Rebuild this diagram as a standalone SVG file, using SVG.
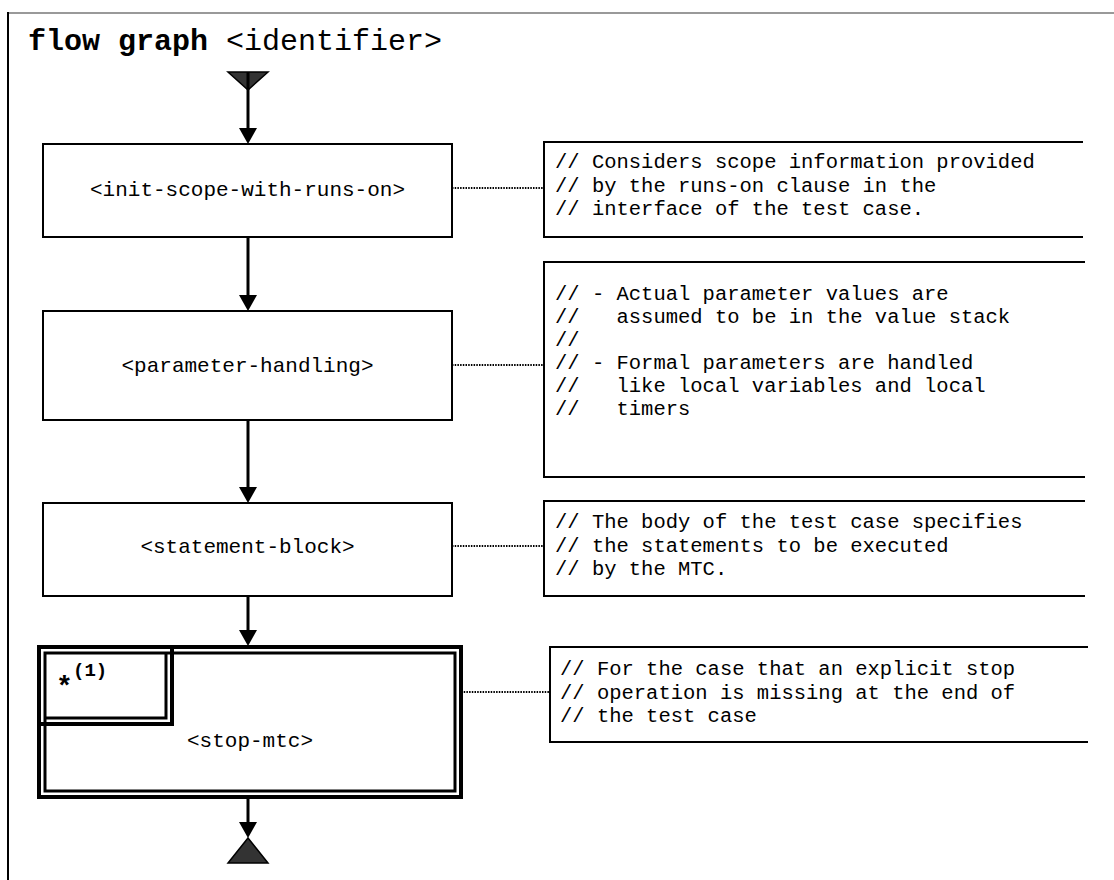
<svg xmlns="http://www.w3.org/2000/svg" width="1114" height="880" viewBox="0 0 1114 880">
<style>
.t{font-family:"Liberation Mono","Courier New",monospace;fill:#000}
.lbl{font-size:21px}
.cm{font-size:20.5px;white-space:pre}
.box{fill:#fff;stroke:#000;stroke-width:2}
.note{fill:none;stroke:#000;stroke-width:2}
.flow{fill:none;stroke:#000;stroke-width:3}
.dot{fill:none;stroke:#000;stroke-width:2;stroke-dasharray:1.5 1.2}
.term{fill:#333;stroke:#000;stroke-width:1.5}
</style>
<defs>
<marker id="ah" markerUnits="userSpaceOnUse" markerWidth="16" markerHeight="18" refX="8" refY="9" orient="auto">
<path d="M0,0 L16,9 L0,18 Z" fill="#000"/>
</marker>
</defs>
<rect width="1114" height="880" fill="#fff"/>
<g id="frame">
<line x1="7" y1="13" x2="1114" y2="13" stroke="#999" stroke-width="2"/>
<line x1="8" y1="12" x2="8" y2="880" stroke="#000" stroke-width="2"/>
<text class="t" x="28" y="50" font-size="30"><tspan font-weight="bold">flow graph</tspan> &lt;identifier&gt;</text>
</g>
<g id="start">
<polygon class="term" points="228,72 268,72 248,90"/>
</g>
<g id="n1">
<rect class="box" x="43" y="144" width="409" height="93"/>
<text class="t lbl" x="247.5" y="196" text-anchor="middle">&lt;init-scope-with-runs-on&gt;</text>
</g>
<g id="n2">
<rect class="box" x="43" y="311" width="409" height="109"/>
<text class="t lbl" x="247.5" y="372" text-anchor="middle">&lt;parameter-handling&gt;</text>
</g>
<g id="n3">
<rect class="box" x="43" y="503" width="409" height="93"/>
<text class="t lbl" x="247.5" y="553" text-anchor="middle">&lt;statement-block&gt;</text>
</g>
<g id="n4">
<rect x="39" y="647" width="422" height="150" fill="#fff" stroke="#000" stroke-width="4"/>
<rect x="45" y="653" width="410" height="138" fill="none" stroke="#000" stroke-width="3"/>
<polyline points="41,724 172,724 172,649" fill="none" stroke="#000" stroke-width="4"/>
<polyline points="46,718 166,718 166,654" fill="none" stroke="#000" stroke-width="3"/>
<text class="t" x="56" y="695" font-size="28" font-weight="bold">*</text>
<text class="t" x="73" y="676" font-size="19" font-weight="bold">(1)</text>
<text class="t lbl" x="250" y="747" text-anchor="middle">&lt;stop-mtc&gt;</text>
</g>
<g id="end">
<polygon class="term" points="248,838 268,863 228,863"/>
</g>
<g id="note1">
<polyline class="note" points="1083,142 544,142 544,237 1083,237"/>
<text class="t cm" x="555" y="168">// Considers scope information provided</text>
<text class="t cm" x="555" y="191.5">// by the runs-on clause in the</text>
<text class="t cm" x="555" y="215">// interface of the test case.</text>
</g>
<g id="note2">
<polyline class="note" points="1085,262 544,262 544,477 1085,477"/>
<text class="t cm" x="555" y="300">// - Actual parameter values are</text>
<text class="t cm" x="555" y="323">//   assumed to be in the value stack</text>
<text class="t cm" x="555" y="346">//</text>
<text class="t cm" x="555" y="369">// - Formal parameters are handled</text>
<text class="t cm" x="555" y="392">//   like local variables and local</text>
<text class="t cm" x="555" y="415">//   timers</text>
</g>
<g id="note3">
<polyline class="note" points="1085,501 544,501 544,596 1085,596"/>
<text class="t cm" x="555" y="528">// The body of the test case specifies</text>
<text class="t cm" x="555" y="551.5">// the statements to be executed</text>
<text class="t cm" x="555" y="575">// by the MTC.</text>
</g>
<g id="note4">
<polyline class="note" points="1088,647 550,647 550,742 1088,742"/>
<text class="t cm" x="560" y="675">// For the case that an explicit stop</text>
<text class="t cm" x="560" y="698.5">// operation is missing at the end of</text>
<text class="t cm" x="560" y="722">// the test case</text>
</g>
<g id="connectors">
<path class="flow" d="M248,72 V136" marker-end="url(#ah)"/>
<path class="flow" d="M248,237 V303" marker-end="url(#ah)"/>
<path class="flow" d="M248,420 V495" marker-end="url(#ah)"/>
<path class="flow" d="M248,596 V638" marker-end="url(#ah)"/>
<path class="flow" d="M248,797 V830" marker-end="url(#ah)"/>
<path class="dot" d="M452,188 H544"/>
<path class="dot" d="M452,365 H544"/>
<path class="dot" d="M452,546 H544"/>
<path class="dot" d="M461,692 H550"/>
</g>
</svg>
